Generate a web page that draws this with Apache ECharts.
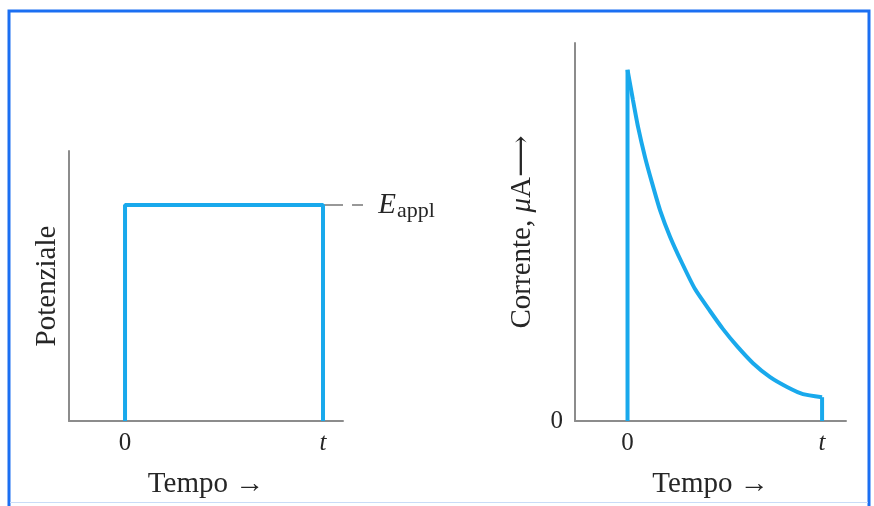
<!DOCTYPE html>
<html>
<head>
<meta charset="utf-8">
<script src="https://cdn.jsdelivr.net/npm/echarts@6/dist/echarts.min.js"></script>
<style>
  html, body { margin: 0; padding: 0; background: #fff; }
  #chart { width: 874px; height: 506px; }
</style>
</head>
<body>
<div id="chart"></div>
<script>
// potenziale: gradino da 0 a t
var potTime = [0, 0, 1, 1];
var potValue = [0, 80, 80, 0];
var eApplTime = [1, 1.203];
var eApplValue = [80, 80];

// corrente: picco a 0, decadimento fino a t
var curTime = [0, 0.028, 0.054, 0.090, 0.126, 0.167, 0.219, 0.280, 0.347, 0.424, 0.491, 0.563, 0.645, 0.733, 0.820, 0.902, 1.0];
var curValue = [92.9, 84.9, 77.8, 69.8, 63.0, 55.8, 48.7, 41.8, 34.9, 29.1, 24.3, 19.8, 15.3, 11.6, 9.0, 7.1, 6.3];

// etichette degli assi
var timeTicks = [0, 1];
var timeTickLabels = ['0', '{it|t}'];
var currentTicks = [0];

var blue = '#19a9ec';
var axisGrey = '#8c8c8c';
var textColor = '#262626';
var serif = '"Liberation Serif", "DejaVu Serif", serif';

function zip(xs, ys) {
  var out = [];
  for (var i = 0; i < xs.length; i++) out.push([xs[i], ys[i]]);
  return out;
}

var curve = zip(curTime, curValue);
var riseLine = [[0, 0], curve[0]];
var fallLine = [curve[curve.length - 1], [1, 0]];

function timeAxis(gridIndex, min, max) {
  return {
    type: 'value',
    gridIndex: gridIndex,
    min: min,
    max: max,
    name: 'Tempo \u2192',
    nameLocation: 'middle',
    nameGap: 49,
    nameTextStyle: { fontFamily: serif, fontSize: 29, color: textColor },
    axisLine: { show: true, onZero: false, lineStyle: { color: axisGrey, width: 2 } },
    axisTick: { show: false },
    splitLine: { show: false },
    axisLabel: {
      customValues: timeTicks,
      margin: 10,
      fontFamily: serif,
      fontSize: 25,
      color: textColor,
      formatter: function (v) {
        return timeTickLabels[timeTicks.indexOf(v)];
      },
      rich: { it: { fontFamily: serif, fontStyle: 'italic', fontSize: 25, color: textColor } }
    }
  };
}

var chart = echarts.init(document.getElementById('chart'));

var option = {
  animation: false,
  backgroundColor: '#fff',
  grid: [
    { left: 69, right: 531, top: 151, bottom: 85 },
    { left: 575, right: 28, top: 43, bottom: 85 },
    // griglia ausiliaria, stessa scala del grafico di sinistra, per la linea di E_appl
    { left: 69, right: 400, top: 151, bottom: 85 }
  ],
  xAxis: [
    timeAxis(0, -0.283, 1.101),
    timeAxis(1, -0.27, 1.123),
    { type: 'value', gridIndex: 2, min: -0.283, max: 1.7625, show: false }
  ],
  yAxis: [
    {
      type: 'value',
      gridIndex: 0,
      min: 0,
      max: 100,
      name: 'Potenziale',
      nameLocation: 'middle',
      nameGap: 7,
      nameTextStyle: { fontFamily: serif, fontSize: 29, color: textColor },
      axisLine: { show: true, onZero: false, lineStyle: { color: axisGrey, width: 2 } },
      axisTick: { show: false },
      splitLine: { show: false },
      axisLabel: { show: false }
    },
    {
      type: 'value',
      gridIndex: 1,
      min: 0,
      max: 100,
      name: 'Corrente, {it|\u03bc}A\u27f6',
      nameLocation: 'middle',
      nameGap: 38,
      nameTextStyle: {
        fontFamily: serif, fontSize: 29, color: textColor,
        rich: { it: { fontFamily: serif, fontStyle: 'italic', fontSize: 29, color: textColor } }
      },
      axisLine: { show: true, onZero: false, lineStyle: { color: axisGrey, width: 2 } },
      axisTick: { show: false },
      splitLine: { show: false },
      axisLabel: {
        customValues: currentTicks,
        margin: 12,
        fontFamily: serif,
        fontSize: 25,
        color: textColor
      }
    },
    { type: 'value', gridIndex: 2, min: 0, max: 100, show: false, splitLine: { show: false } }
  ],
  series: [
    {
      type: 'line',
      xAxisIndex: 2,
      yAxisIndex: 2,
      data: zip(eApplTime, eApplValue),
      symbol: 'none',
      silent: true,
      lineStyle: { color: '#777', width: 1.5, type: [20, 9, 11, 200] },
      endLabel: {
        show: true,
        distance: 15,
        formatter: '{e|E}{sub|appl}',
        rich: {
          e: { fontFamily: serif, fontStyle: 'italic', fontSize: 29, color: textColor },
          sub: { fontFamily: serif, fontSize: 22, color: textColor, padding: [12, 0, 0, 1] }
        }
      }
    },
    {
      type: 'line',
      xAxisIndex: 0,
      yAxisIndex: 0,
      data: zip(potTime, potValue),
      symbol: 'none',
      lineStyle: { color: blue, width: 4 }
    },
    {
      type: 'line',
      xAxisIndex: 1,
      yAxisIndex: 1,
      data: riseLine,
      symbol: 'none',
      lineStyle: { color: blue, width: 4 }
    },
    {
      type: 'line',
      xAxisIndex: 1,
      yAxisIndex: 1,
      data: curve,
      symbol: 'none',
      smooth: 0.2,
      lineStyle: { color: blue, width: 4 }
    },
    {
      type: 'line',
      xAxisIndex: 1,
      yAxisIndex: 1,
      data: fallLine,
      symbol: 'none',
      lineStyle: { color: blue, width: 4 }
    }
  ],
  graphic: [
    {
      type: 'rect',
      shape: { x: 9, y: 11, width: 860, height: 520 },
      style: { fill: 'none', stroke: '#1b6ff2', lineWidth: 3 }
    },
    {
      type: 'rect',
      shape: { x: 10, y: 502, width: 858, height: 1 },
      style: { fill: '#c9dcf7' }
    }
  ]
};

chart.setOption(option);
window.addEventListener('resize', function () {
  chart.resize();
});
</script>
</body>
</html>
